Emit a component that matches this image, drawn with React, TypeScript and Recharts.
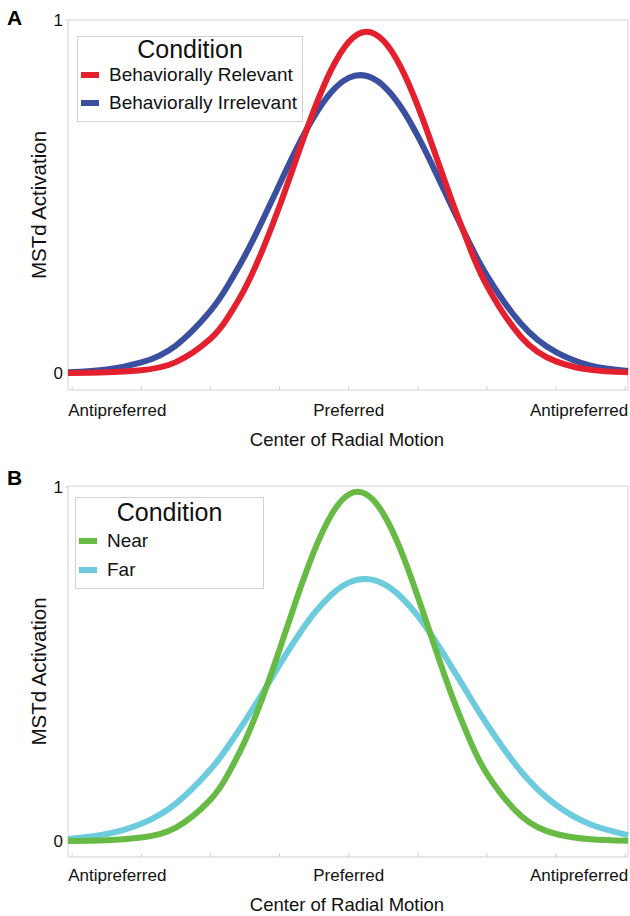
import { LineChart, Line, XAxis, YAxis, Legend, ReferenceArea } from 'recharts'

const FONT = '"Liberation Sans", Arial, Helvetica, sans-serif'

// center of radial motion, -4 / 4 = antipreferred, 0 = preferred
const xPos = [-4.06, -3.5, -3, -2.5, -2, -1.75, -1.5, -1.25, -1, -0.75, -0.5, -0.25, 0, 0.25, 0.5, 0.75, 1, 1.25, 1.5, 1.75, 2, 2.5, 3, 3.5, 4.04]

const relevant = [0, 0.002, 0.008, 0.031, 0.097, 0.157, 0.24, 0.347, 0.473, 0.611, 0.746, 0.86, 0.938, 0.967, 0.942, 0.868, 0.756, 0.622, 0.484, 0.356, 0.247, 0.101, 0.033, 0.009, 0.002]
const irrelevant = [0.002, 0.01, 0.03, 0.078, 0.176, 0.247, 0.333, 0.431, 0.535, 0.637, 0.727, 0.796, 0.836, 0.842, 0.814, 0.755, 0.671, 0.572, 0.468, 0.367, 0.276, 0.138, 0.059, 0.021, 0.006]

const near = [0, 0.002, 0.01, 0.038, 0.117, 0.187, 0.283, 0.403, 0.541, 0.686, 0.819, 0.922, 0.979, 0.98, 0.925, 0.823, 0.69, 0.546, 0.407, 0.286, 0.19, 0.07, 0.02, 0.005, 0.001]
const far = [0.006, 0.02, 0.049, 0.106, 0.202, 0.266, 0.339, 0.417, 0.498, 0.575, 0.643, 0.696, 0.73, 0.74, 0.727, 0.691, 0.636, 0.566, 0.488, 0.408, 0.33, 0.195, 0.102, 0.047, 0.017]

const xTicks = [-4, -3, -2, -1, 0, 1, 2, 3, 4]
const xTickNames = ['Antipreferred', '', '', '', 'Preferred', '', '', '', 'Antipreferred']
const yTicks = [0, 1]

const X_DOMAIN = [-4.06, 4.04]
const FRAME = '#d2d2d2'

const dataA = xPos.map((x, i) => ({ x, relevant: relevant[i], irrelevant: irrelevant[i] }))
const dataB = xPos.map((x, i) => ({ x, near: near[i], far: far[i] }))

const seriesA = [
  { key: 'irrelevant', name: 'Behaviorally Irrelevant', color: '#3b4fa1' },
  { key: 'relevant', name: 'Behaviorally Relevant', color: '#e5202e' },
]
const legendA = [seriesA[1], seriesA[0]]
const seriesB = [
  { key: 'far', name: 'Far', color: '#6ccbdc' },
  { key: 'near', name: 'Near', color: '#67bb45' },
]
const legendB = [seriesB[1], seriesB[0]]

function makeXTick(labelDy: number) {
  return function XTick({ x, y, payload }: any) {
    const i = xTicks.indexOf(payload.value)
    const name = xTickNames[i] || ''
    const anchor = i === 0 ? 'start' : i === xTicks.length - 1 ? 'end' : 'middle'
    const dx = i === 0 ? -4 : i === xTicks.length - 1 ? 3 : 0
    return (
      <g>
        <line x1={x} x2={x} y1={y} y2={y - 4} stroke={FRAME} />
        {name && (
          <text x={x + dx} y={y + labelDy} textAnchor={anchor} fontSize={17} fill="#111" fontFamily={FONT}>
            {name}
          </text>
        )}
      </g>
    )
  }
}

function CondLegend({ items, width, titleH, rowH }: any) {
  return (
    <div style={{ width, border: `1px solid ${FRAME}`, background: '#fff', fontFamily: FONT, color: '#111', boxSizing: 'border-box', paddingBottom: 4, textAlign: 'left' }}>
      <div style={{ fontSize: 25, height: titleH, lineHeight: `${titleH}px`, textAlign: 'center' }}>Condition</div>
      {items.map((s: any) => (
        <div key={s.key} style={{ display: 'flex', alignItems: 'center', height: rowH, fontSize: 19, paddingLeft: 3, whiteSpace: 'nowrap' }}>
          <span style={{ display: 'inline-block', width: 18, height: 6, background: s.color, marginRight: 10, flex: 'none' }} />
          {s.name}
        </div>
      ))}
    </div>
  )
}

function Panel({ data, series, legendItems, height, margin, xHeight, legendPos, tickDy, titleDy, yDomain }: any) {
  return (
    <LineChart width={630} height={height} data={data} margin={margin}>
      <ReferenceArea x1={X_DOMAIN[0]} x2={X_DOMAIN[1]} y1={yDomain[0]} y2={yDomain[1]} fill="none" stroke={FRAME} strokeWidth={1} />
      <XAxis
        dataKey="x"
        type="number"
        domain={X_DOMAIN}
        ticks={xTicks}
        interval={0}
        height={xHeight}
        axisLine={false}
        tickLine={false}
        tickSize={0}
        tickMargin={0}
        tick={makeXTick(tickDy)}
        label={({ viewBox }: any) => (
          <text x={viewBox.x + viewBox.width / 2 - 1} y={viewBox.y + titleDy} textAnchor="middle" fontSize={18.5} fill="#111" fontFamily={FONT}>
            Center of Radial Motion
          </text>
        )}
      />
      <YAxis
        type="number"
        domain={yDomain}
        ticks={yTicks}
        interval={0}
        width={20}
        axisLine={false}
        tickLine={{ stroke: FRAME }}
        tickSize={3}
        tickMargin={2}
        tick={{ fontSize: 17, fill: '#111', fontFamily: FONT }}
        label={({ viewBox }: any) => {
          const cx = 38
          const cy = viewBox.y + viewBox.height / 2
          return (
            <text x={cx} y={cy} transform={`rotate(-90 ${cx} ${cy})`} textAnchor="middle" dominantBaseline="central" fontSize={20.5} fill="#111" fontFamily={FONT}>
              MSTd Activation
            </text>
          )
        }}
      />
      <Legend
        layout="horizontal"
        verticalAlign="middle"
        align="center"
        wrapperStyle={{ left: legendPos.left, top: legendPos.top, width: legendPos.width }}
        content={() => <CondLegend items={legendItems} width={legendPos.width} titleH={legendPos.titleH} rowH={legendPos.rowH} />}
      />
      {series.map((s: any) => (
        <Line key={s.key} dataKey={s.key} name={s.name} type="natural" stroke={s.color} strokeWidth={6} dot={false} activeDot={false} isAnimationActive={false} />
      ))}
    </LineChart>
  )
}

export default function App() {
  return (
    <div style={{ position: 'absolute', left: 0, top: 0, width: 630, height: 916, background: '#fff', fontFamily: FONT }}>
      <div style={{ position: 'absolute', left: 7, top: 6, fontSize: 21, fontWeight: 'bold' }}>A</div>
      <div style={{ position: 'absolute', left: 7, top: 466, fontSize: 21, fontWeight: 'bold' }}>B</div>
      <div style={{ position: 'absolute', left: 0, top: 0 }}>
        <Panel
          data={dataA}
          series={seriesA}
          legendItems={legendA}
          height={460}
          margin={{ top: 20, right: 2, left: 48, bottom: 10 }}
          xHeight={60}
          legendPos={{ left: 77, top: 36, width: 226, titleH: 24, rowH: 28 }}
          tickDy={26}
          titleDy={56}
          yDomain={[-0.048, 1]}
        />
      </div>
      <div style={{ position: 'absolute', left: 0, top: 460 }}>
        <Panel
          data={dataB}
          series={seriesB}
          legendItems={legendB}
          height={456}
          margin={{ top: 26, right: 2, left: 48, bottom: 9 }}
          xHeight={50}
          legendPos={{ left: 75, top: 37, width: 189, titleH: 28, rowH: 29 }}
          tickDy={24}
          titleDy={54}
          yDomain={[-0.045, 1.003]}
        />
      </div>
    </div>
  )
}
